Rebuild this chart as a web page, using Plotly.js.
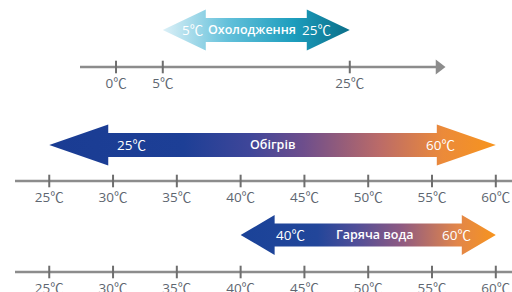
<!DOCTYPE html>
<html>
<head>
<meta charset="utf-8">
<script src="https://cdn.plot.ly/plotly-3.0.1.min.js"></script>
<style>html,body{margin:0;padding:0;background:#fff;}#chart{width:512px;height:292px;}</style>
</head>
<body>
<div id="chart"></div>
<script>
// ---- data ----
const rowNames   = ['Охолодження', 'Обігрів', 'Гаряча вода'];
const rangeFrom  = [5, 25, 40];
const rangeTo    = [25, 60, 60];
const coolTicks  = [0, 5, 25];
const heatTicks  = [25, 30, 35, 40, 45, 50, 55, 60];
const waterTicks = [25, 30, 35, 40, 45, 50, 55, 60];
const unit = '℃';

// ---- styles / layout ----
const W = 512, H = 292;
const axisRanges = [[-12.41, 42.35], [21.14, 61.27], [21.14, 61.27]];
const axisIds = ['x', 'x2', 'x3'];
const tickSets = [coolTicks, heatTicks, waterTicks];
const lineY = [67, 181, 272];
const lineStartPx = [80, 15, 15];
const lineEndPx = [445, 522, 522];
const arrowY = [30, 145, 235];
const headHalf = [20.5, 20.5, 20];
const bodyHalf = [12, 12, 11.5];
const headLenPx = [43, 59, 34];
const leftLblOff = [30, 82, 50];
const rightLblOff = [-33, -55, -39];
const titleShift = [-4, 0, 7];
const gradients = [
  [[0, '#dcf0f7'], [0.35, '#62c0da'], [0.7, '#1c9dbd'], [1, '#0b6f89']],
  [[0, '#1a3c93'], [0.3, '#1d3f96'], [0.45, '#3f4699'], [0.57, '#6e4e8c'], [0.74, '#bb6b68'], [0.88, '#eb8a3a'], [1, '#f7941d']],
  [[0, '#1a4298'], [0.3, '#22469a'], [0.45, '#4f4e98'], [0.63, '#8e5a82'], [0.85, '#e2864a'], [1, '#f7941d']]
];
const lineColor = '#8c8c8c';
const tickColor = '#6e6e6e';
const textColor = '#5e6670';
const fontFam = '"Open Sans", "Noto Sans CJK SC", sans-serif';

function pxToData(i, px) {
  const r = axisRanges[i];
  return r[0] + (px / W) * (r[1] - r[0]);
}
function pxLen(i, px) {
  const r = axisRanges[i];
  return px / W * (r[1] - r[0]);
}

const traces = [];
const annotations = [];
const layout = {
  width: W, height: H,
  margin: {l: 0, r: 0, t: 0, b: 0},
  paper_bgcolor: '#fff', plot_bgcolor: 'rgba(0,0,0,0)',
  showlegend: false,
  yaxis: {range: [H, 0], visible: false, fixedrange: true, domain: [0, 1]},
  annotations: annotations
};

for (let i = 0; i < 3; i++) {
  const xa = axisIds[i];
  const yl = lineY[i];
  const key = i === 0 ? 'xaxis' : 'xaxis' + (i + 1);
  layout[key] = {
    range: axisRanges[i], domain: [0, 1], anchor: 'free',
    position: 1 - (yl + 6) / H,
    showgrid: false, zeroline: false, showline: false, ticks: '',
    tickmode: 'array', tickvals: tickSets[i],
    ticktext: tickSets[i].map(t => t + unit),
    tickfont: {family: fontFam, size: 13.5, color: textColor},
    fixedrange: true
  };
  if (i > 0) layout[key].overlaying = 'x';
  // axis line
  const xs = pxToData(i, lineStartPx[i]);
  const xe = pxToData(i, lineEndPx[i]);
  const headEnd = xe - pxLen(i, 6);
  traces.push({type: 'scatter', mode: 'lines', x: [xs, headEnd], y: [yl, yl],
    xaxis: xa, yaxis: 'y', line: {color: lineColor, width: 2.5}, hoverinfo: 'skip'});
  traces.push({type: 'scatter', mode: 'markers', x: [headEnd], y: [yl],
    xaxis: xa, yaxis: 'y', marker: {symbol: 'triangle-right', size: 13, color: lineColor}, hoverinfo: 'skip'});
  // tick marks
  traces.push({type: 'scatter', mode: 'markers', x: tickSets[i], y: tickSets[i].map(() => yl),
    xaxis: xa, yaxis: 'y',
    marker: {symbol: 'line-ns', size: 9, line: {width: 2, color: tickColor}}, hoverinfo: 'skip'});

  // double arrow polygon
  const a = rangeFrom[i], b = rangeTo[i];
  const L = pxLen(i, headLenPx[i]);
  const c = arrowY[i], h1 = bodyHalf[i], h2 = headHalf[i];
  const px = [a, a + L, a + L, b - L, b - L, b, b - L, b - L, a + L, a + L, a];
  const py = [c, c - h2, c - h1, c - h1, c - h2, c, c + h2, c + h1, c + h1, c + h2, c];
  traces.push({type: 'scatter', mode: 'lines', x: px, y: py, xaxis: xa, yaxis: 'y',
    fill: 'toself', line: {width: 0, color: 'rgba(0,0,0,0)'},
    fillgradient: {type: 'horizontal', start: a, stop: b, colorscale: gradients[i]},
    hoverinfo: 'skip'});

  annotations.push({xref: xa, yref: 'y', x: a, y: c, xshift: leftLblOff[i], text: a + unit,
    showarrow: false, font: {family: fontFam, size: 13.5, color: '#ffffff'}});
  annotations.push({xref: xa, yref: 'y', x: b, y: c, xshift: rightLblOff[i], text: b + unit,
    showarrow: false, font: {family: fontFam, size: 13.5, color: '#ffffff'}});
  annotations.push({xref: xa, yref: 'y', x: (a + b) / 2, y: c - 1, xshift: titleShift[i], text: rowNames[i],
    showarrow: false, font: {family: fontFam, size: 12.5, color: '#ffffff', weight: 600}});
}

Plotly.newPlot('chart', traces, layout, {displayModeBar: false, staticPlot: true});
</script>
</body>
</html>
